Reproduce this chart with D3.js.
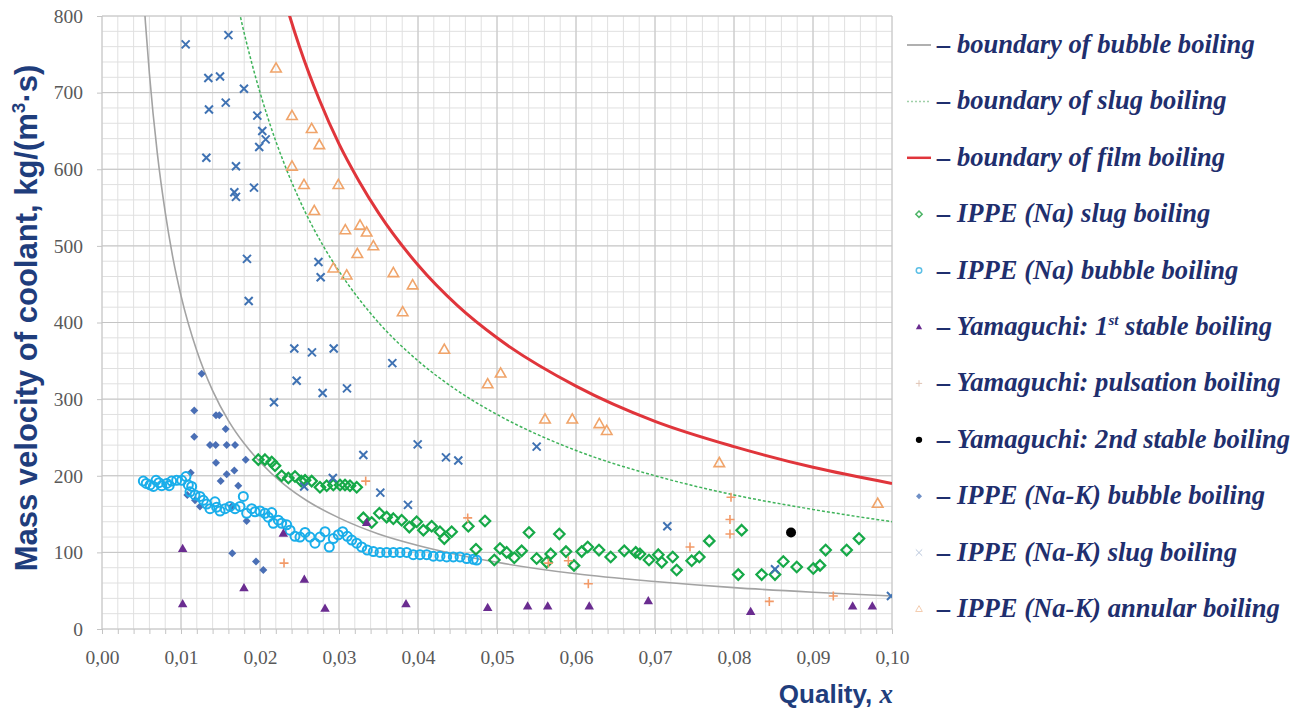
<!DOCTYPE html>
<html>
<head>
<meta charset="utf-8">
<script src="https://cdn.jsdelivr.net/npm/d3@7"></script>
<style>
  body { margin: 0; background: #fff; }
  svg { display: block; }
</style>
</head>
<body>
<div id="chart"></div>
<script>
// ---- data ----
var xTickValues = [0, 0.01, 0.02, 0.03, 0.04, 0.05, 0.06, 0.07, 0.08, 0.09, 0.10];
var yTickValues = [0, 100, 200, 300, 400, 500, 600, 700, 800];

// boundary curves (tabulated)
var bubbleBoundX = [0.0050, 0.0055, 0.006, 0.007, 0.008, 0.009, 0.010, 0.012, 0.014, 0.016, 0.018, 0.020, 0.023, 0.026, 0.030, 0.035, 0.040, 0.045, 0.050, 0.060, 0.070, 0.080, 0.090, 0.100];
var bubbleBoundY = [870, 791, 725, 621, 544, 483, 435, 363, 311, 272, 242, 218, 189, 167, 145, 124, 109, 97, 87, 72, 62, 54, 48, 43];
var slugBoundX = [0.017, 0.0175, 0.019, 0.021, 0.023, 0.025, 0.028, 0.030, 0.035, 0.040, 0.045, 0.050, 0.060, 0.070, 0.080, 0.090, 0.100];
var slugBoundY = [824, 800, 737, 667, 609, 560, 500, 467, 400, 350, 311, 280, 233, 200, 175, 156, 140];
var filmBoundX = [0.023, 0.02375, 0.025, 0.0275, 0.030, 0.0325, 0.035, 0.040, 0.045, 0.050, 0.060, 0.070, 0.080, 0.090, 0.100];
var filmBoundY = [826, 800, 760, 691, 633, 585, 543, 475, 422, 380, 317, 271, 238, 211, 190];

var naSlug = [[0.01979,221],[0.02063,221],[0.02148,218],[0.0219,213],[0.02274,200],[0.02359,197],[0.02443,199],[0.02522,193],[0.0257,194],[0.02654,193],[0.02759,185],[0.02844,187],[0.02928,188],[0.03013,188],[0.03076,188],[0.03139,187],[0.03224,185],
  [0.03308,145],[0.03414,139],[0.03511,151],[0.03603,146],[0.03688,144],[0.03793,142],[0.0389,133],[0.03983,140],[0.04068,129],[0.04173,134],[0.04278,127],[0.04333,118],[0.04426,127],[0.04637,134],[0.04734,104],[0.04848,141],[0.04966,90],[0.05038,105],[0.05122,100],[0.05219,93],[0.05312,102],[0.05405,126],[0.05502,92],[0.05629,87],[0.0568,98],[0.05789,124],[0.05873,101],[0.05975,83],[0.06072,101],[0.06148,107],[0.06291,103],[0.06439,94],[0.06611,102],[0.06756,100],[0.0681,98],[0.06924,90],[0.07042,97],[0.07085,87],[0.07224,94],[0.07274,77],[0.07464,89],[0.07561,94],[0.07687,115],[0.08054,71],[0.08097,129],[0.0835,71],[0.08519,71],[0.08624,88],[0.08794,81],[0.09004,79],[0.09089,83],[0.0916,103],[0.09426,103],[0.09582,118]];

var naBubble = [[0.00523,193],[0.0056,190],[0.00608,188],[0.0065,186],[0.00684,194],[0.0072,191],[0.00756,187],[0.00819,190],[0.0085,187],[0.00882,193],[0.00945,194],[0.01009,194],[0.01063,199],[0.01093,188],[0.01114,179],[0.01135,186],[0.01177,175],[0.0124,173],[0.01283,168],[0.01325,163],[0.01367,157],[0.0143,166],[0.01451,159],[0.01494,154],[0.01557,157],[0.0162,160],[0.01684,157],[0.01747,160],[0.01789,173],[0.01831,151],[0.01895,157],[0.01937,153],[0.02,154],[0.02063,151],[0.02105,146],[0.02148,152],[0.02168,138],[0.02232,142],[0.02274,138],[0.02338,136],[0.0238,129],[0.02443,121],[0.02506,120],[0.0257,126],[0.02633,120],[0.02696,112],[0.02759,120],[0.02823,127],[0.02877,107],[0.02928,118],[0.02991,123],[0.03046,127],[0.03105,121],[0.03161,116],[0.03224,112],[0.03287,107],[0.03358,103],[0.03435,101],[0.03519,100],[0.03603,100],[0.03688,100],[0.03772,100],[0.03857,100],[0.0394,97],[0.04025,97],[0.0411,97],[0.04194,95],[0.04278,95],[0.04363,94],[0.04447,94],[0.04532,94],[0.04616,92],[0.047,91],[0.04743,90]];

var yamFirst = [[0.01021,105],[0.01021,33],[0.01797,54],[0.02295,125],[0.02561,65],[0.02823,27],[0.0335,139],[0.03848,33],[0.04882,28],[0.05388,30],[0.05642,30],[0.06168,30],[0.06915,37],[0.08211,23],[0.09502,30],[0.09751,30]];
var yamPulse = [[0.03338,193],[0.02304,86],[0.04629,145],[0.0565,86],[0.05903,89],[0.06156,59],[0.07443,107],[0.07962,172],[0.07949,143],[0.07949,124],[0.08447,36],[0.09257,43]];
var yamSecond = [[0.08722,126]];

var nakBubble = [[0.01262,333],[0.01168,285],[0.01443,279],[0.01485,279],[0.01566,261],[0.01168,251],[0.01367,240],[0.01439,240],[0.01578,240],[0.01684,240],[0.01819,221],[0.01443,217],[0.01675,207],[0.01578,202],[0.01502,193],[0.01123,204],[0.01725,187],[0.0108,175],[0.01177,168],[0.0124,160],[0.01641,160],[0.01831,141],[0.01649,99],[0.01949,88],[0.02042,77]];
var nakSlug = [[0.01059,763],[0.0160,775],[0.01346,719],[0.01494,721],[0.01797,705],[0.01354,678],[0.01566,687],[0.01966,670],[0.02029,650],[0.02072,639],[0.0199,629],[0.01321,615],[0.01696,604],[0.01675,570],[0.01696,564],[0.01924,576],[0.01835,483],[0.01857,428],[0.0274,479],[0.02768,459],[0.02434,366],[0.02658,361],[0.02933,366],[0.03675,347],[0.02464,324],[0.02793,308],[0.03101,314],[0.02177,296],[0.03308,227],[0.03996,241],[0.04354,224],[0.0451,220],[0.03523,178],[0.03873,162],[0.02922,197],[0.02559,186],[0.05502,238],[0.07156,134],[0.08519,78],[0.09987,43]];
var nakAnnular = [[0.02203,732],[0.02405,670],[0.02654,653],[0.02751,632],[0.02405,604],[0.02557,580],[0.02992,580],[0.02687,546],[0.0308,521],[0.03266,527],[0.0335,518],[0.03232,490],[0.03435,500],[0.02928,471],[0.03097,462],[0.03688,465],[0.03932,449],[0.03806,414],[0.04333,365],[0.04882,320],[0.05046,334],[0.05608,274],[0.05953,274],[0.06295,268],[0.06389,259],[0.07814,217],[0.09819,164]];

var legendLabels = ["– boundary of bubble boiling", "– boundary of slug boiling", "– boundary of film boiling",
  "– IPPE (Na) slug boiling", "– IPPE (Na) bubble boiling", "– Yamaguchi: 1st stable boiling",
  "– Yamaguchi: pulsation boiling", "– Yamaguchi: 2nd stable boiling", "– IPPE (Na-K) bubble boiling",
  "– IPPE (Na-K) slug boiling", "– IPPE (Na-K) annular boiling"];

// ---- marker shapes ----
var shapeDiamond = { draw: function(p, s) { var r = Math.sqrt(s) / 2; p.moveTo(0, -r); p.lineTo(r, 0); p.lineTo(0, r); p.lineTo(-r, 0); p.closePath(); } };
var shapeTriangle = { draw: function(p, s) { var r = Math.sqrt(s) / 2; p.moveTo(0, -r); p.lineTo(r, r * 0.75); p.lineTo(-r, r * 0.75); p.closePath(); } };
var shapeX = { draw: function(p, s) { var r = Math.sqrt(s) / 2; p.moveTo(-r, -r); p.lineTo(r, r); p.moveTo(r, -r); p.lineTo(-r, r); } };
var shapePlus = { draw: function(p, s) { var r = Math.sqrt(s) / 2; p.moveTo(-r, 0); p.lineTo(r, 0); p.moveTo(0, -r); p.lineTo(0, r); } };
var shapeCircle = { draw: function(p, s) { var r = Math.sqrt(s) / 2; p.moveTo(r, 0); p.arc(0, 0, r, 0, 2 * Math.PI); } };

var W = 1297, H = 709;
var x = d3.scaleLinear().domain([0, 0.1]).range([102, 892]);
var y = d3.scaleLinear().domain([0, 800]).range([629, 16]);

var svg = d3.select("#chart").append("svg")
    .attr("width", W)
    .attr("height", H);

svg.append("defs").append("clipPath").attr("id", "plotClip")
    .append("rect")
    .attr("x", x(0)).attr("y", y(800))
    .attr("width", x(0.1) - x(0))
    .attr("height", y(0) - y(800));

// grid
var xMinor = d3.range(0, 51).map(function(i) { return i * 0.002; });
var yMinor = d3.range(0, 41).map(function(i) { return i * 20; });
var grid = svg.append("g");
grid.selectAll(".vmin").data(xMinor).enter().append("line")
    .attr("x1", function(d) { return x(d); }).attr("x2", function(d) { return x(d); })
    .attr("y1", y(0)).attr("y2", y(800))
    .attr("stroke", "#e0e0e0").attr("stroke-width", 1);
grid.selectAll(".hmin").data(yMinor).enter().append("line")
    .attr("x1", x(0)).attr("x2", x(0.1))
    .attr("y1", function(d) { return y(d); }).attr("y2", function(d) { return y(d); })
    .attr("stroke", "#e0e0e0").attr("stroke-width", 1);
grid.selectAll(".vmaj").data(xTickValues).enter().append("line")
    .attr("x1", function(d) { return x(d); }).attr("x2", function(d) { return x(d); })
    .attr("y1", y(0)).attr("y2", y(800))
    .attr("stroke", "#c4c4c4").attr("stroke-width", 1);
grid.selectAll(".hmaj").data(yTickValues).enter().append("line")
    .attr("x1", x(0)).attr("x2", x(0.1))
    .attr("y1", function(d) { return y(d); }).attr("y2", function(d) { return y(d); })
    .attr("stroke", "#c4c4c4").attr("stroke-width", 1);

// axes
var xMinorAxis = d3.axisBottom(x).tickValues(xMinor).tickSize(5).tickFormat("");
svg.append("g").attr("transform", "translate(0," + y(0) + ")").call(xMinorAxis)
    .call(function(g) { g.select(".domain").remove(); g.selectAll("line").attr("stroke", "#c4c4c4"); });

var xAxis = d3.axisBottom(x).tickValues(xTickValues).tickSize(0).tickPadding(21)
    .tickFormat(function(d) { return d3.format(".2f")(d).replace(".", ","); });
svg.append("g").attr("transform", "translate(0," + y(0) + ")").call(xAxis)
    .call(function(g) {
        g.select(".domain").remove();
        g.selectAll("text").attr("font-family", "Liberation Serif, serif").attr("font-size", 19.5).attr("fill", "#595959");
    });

var yAxis = d3.axisLeft(y).tickValues(yTickValues).tickSize(5).tickPadding(14);
svg.append("g").attr("transform", "translate(" + x(0) + ",0)").call(yAxis)
    .call(function(g) {
        g.select(".domain").remove();
        g.selectAll("line").attr("stroke", "#c4c4c4");
        g.selectAll("text").attr("font-family", "Liberation Serif, serif").attr("font-size", 19.5).attr("fill", "#595959");
    });

// boundary curves
var curveLine = d3.line()
    .x(function(d) { return x(d[0]); })
    .y(function(d) { return y(d[1]); })
    .curve(d3.curveMonotoneX);

var plot = svg.append("g").attr("clip-path", "url(#plotClip)");
plot.append("path").datum(d3.zip(bubbleBoundX, bubbleBoundY))
    .attr("d", curveLine).attr("fill", "none").attr("stroke", "#a3a3a3").attr("stroke-width", 1.6);
plot.append("path").datum(d3.zip(slugBoundX, slugBoundY))
    .attr("d", curveLine).attr("fill", "none").attr("stroke", "#3fb35a").attr("stroke-width", 1.5).attr("stroke-dasharray", "3,2");
plot.append("path").datum(d3.zip(filmBoundX, filmBoundY))
    .attr("d", curveLine).attr("fill", "none").attr("stroke", "#e0353b").attr("stroke-width", 3);

// scatter series
var series = [
    { data: nakBubble, shape: shapeDiamond, size: 64, fill: "#4a6fb5", stroke: "none", sw: 0 },
    { data: naBubble, shape: shapeCircle, size: 81, fill: "none", stroke: "#1aaeea", sw: 2 },
    { data: naSlug, shape: shapeDiamond, size: 110, fill: "none", stroke: "#16a948", sw: 2.2 },
    { data: nakSlug, shape: shapeX, size: 64, fill: "none", stroke: "#3f72b3", sw: 2 },
    { data: nakAnnular, shape: shapeTriangle, size: 110, fill: "none", stroke: "#f0a46a", sw: 1.6 },
    { data: yamPulse, shape: shapePlus, size: 81, fill: "none", stroke: "#f29a68", sw: 1.6 },
    { data: yamFirst, shape: shapeTriangle, size: 90, fill: "#6a2c90", stroke: "none", sw: 0 },
    { data: yamSecond, shape: shapeCircle, size: 100, fill: "#000", stroke: "none", sw: 0 }
];

series.forEach(function(s) {
    var sym = d3.symbol().type(s.shape).size(s.size);
    plot.append("g").selectAll("path").data(s.data).enter().append("path")
        .attr("transform", function(d) { return "translate(" + x(d[0]) + "," + y(d[1]) + ")"; })
        .attr("d", sym)
        .attr("fill", s.fill)
        .attr("stroke", s.stroke)
        .attr("stroke-width", s.sw);
});

// axis titles
var yTitle = svg.append("text")
    .attr("transform", "translate(37,318) rotate(-90)")
    .attr("text-anchor", "middle")
    .attr("font-family", "Liberation Sans, Arial, sans-serif")
    .attr("font-weight", "bold")
    .attr("font-size", 31)
    .attr("fill", "#1f3d7c");
yTitle.append("tspan").text("Mass velocity of coolant, kg/(m");
yTitle.append("tspan").attr("font-size", 19).attr("dy", -12).text("3");
yTitle.append("tspan").attr("dy", 12).text("·s)");

var xTitle = svg.append("text")
    .attr("x", 893).attr("y", 703)
    .attr("text-anchor", "end")
    .attr("font-weight", "bold")
    .attr("fill", "#1f3d7c");
xTitle.append("tspan").attr("font-family", "Liberation Sans, Arial, sans-serif").attr("font-size", 26).text("Quality, ");
xTitle.append("tspan").attr("font-family", "Liberation Serif, serif").attr("font-style", "italic").attr("font-size", 27).text("x");

// legend
var legendY = d3.scalePoint().domain(legendLabels).range([53, 617]);
var legendMarks = [
    { kind: "line", stroke: "#b0b0b0", sw: 2, dash: null },
    { kind: "line", stroke: "#9fd0a8", sw: 1.5, dash: "2,2" },
    { kind: "line", stroke: "#e0353b", sw: 2.5, dash: null },
    { kind: "mark", shape: shapeDiamond, size: 40, fill: "none", stroke: "#4cb466", sw: 1.5 },
    { kind: "mark", shape: shapeCircle, size: 30, fill: "none", stroke: "#5bbfe6", sw: 1.5 },
    { kind: "mark", shape: shapeTriangle, size: 40, fill: "#6a2c90", stroke: "none", sw: 0 },
    { kind: "mark", shape: shapePlus, size: 40, fill: "none", stroke: "#e0c4b4", sw: 1 },
    { kind: "mark", shape: shapeCircle, size: 40, fill: "#000", stroke: "none", sw: 0 },
    { kind: "mark", shape: shapeDiamond, size: 36, fill: "#6f8fc6", stroke: "none", sw: 0 },
    { kind: "mark", shape: shapeX, size: 40, fill: "none", stroke: "#b8c6dc", sw: 1 },
    { kind: "mark", shape: shapeTriangle, size: 45, fill: "none", stroke: "#f4cdb0", sw: 1 }
];

var legend = svg.append("g");
legendLabels.forEach(function(label, i) {
    var cy = legendY(label) - 8;
    var m = legendMarks[i];
    if (m.kind === "line") {
        legend.append("line")
            .attr("x1", 907).attr("x2", 931).attr("y1", cy).attr("y2", cy)
            .attr("stroke", m.stroke).attr("stroke-width", m.sw)
            .attr("stroke-dasharray", m.dash);
    } else {
        legend.append("path")
            .attr("transform", "translate(919," + cy + ")")
            .attr("d", d3.symbol().type(m.shape).size(m.size))
            .attr("fill", m.fill).attr("stroke", m.stroke).attr("stroke-width", m.sw);
    }
    var t = legend.append("text")
        .attr("x", 937).attr("y", legendY(label))
        .attr("font-family", "Liberation Serif, serif")
        .attr("font-style", "italic")
        .attr("font-weight", "bold")
        .attr("font-size", 26.6)
        .attr("fill", "#1f2f6e");
    var sup = label.match(/^(.*\d)(st)( .*)$/);
    if (sup) {
        t.append("tspan").text(sup[1]);
        t.append("tspan").attr("font-size", 15).attr("dy", -10).text(sup[2]);
        t.append("tspan").attr("dy", 10).text(sup[3]);
    } else {
        t.text(label);
    }
});
</script>
</body>
</html>
